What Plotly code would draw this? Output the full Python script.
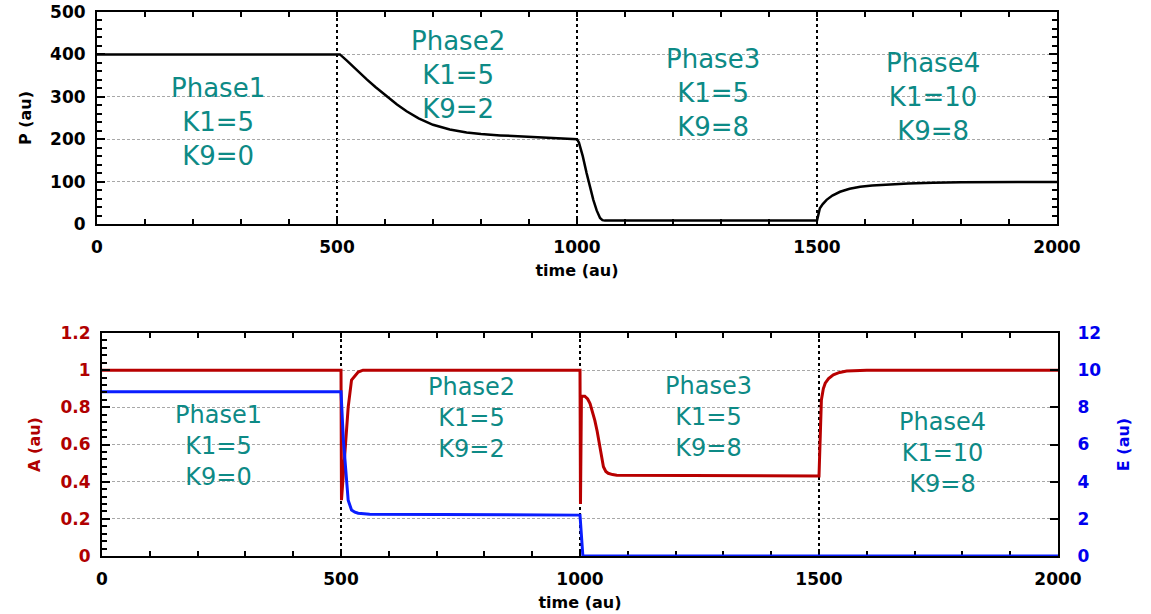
import plotly.graph_objects as go

# ---- P(t), top panel ----
t_p = [0, 500, 506, 520, 540, 562, 580, 603, 625, 645, 670, 700, 735,
       770, 800, 840, 880, 920, 960, 1000,
       1004, 1012, 1020, 1027, 1034, 1041, 1048, 1053, 1058,
       1500, 1503, 1506, 1512, 1520, 1532, 1548, 1568, 1590, 1615,
       1645, 1690, 1742, 1800, 2000]
p_vals = [400, 400, 400, 386, 364, 341, 323, 301, 282, 266, 249, 234, 223,
          216, 212, 209, 207, 205, 203, 200,
          192, 160, 120, 88, 57, 32, 14, 9, 8,
          8, 24, 37, 47, 57, 67, 76, 83, 88, 91,
          93, 95.5, 97.5, 98.5, 99]

# ---- A(t), bottom panel, left axis ----
t_a = [0, 500, 501, 505, 511, 515, 522, 530, 536, 546,
       1000, 1001, 1003, 1010, 1016, 1021, 1026, 1031, 1036, 1042, 1046,
       1049, 1054, 1059, 1068, 1077,
       1500, 1501, 1502, 1505, 1509, 1513, 1520, 1530, 1543, 1558, 1600,
       2000]
a_vals = [1.0, 1.0, 0.30, 0.445, 0.62, 0.80, 0.947, 0.975, 0.99, 1.0,
          1.0, 0.28, 0.86, 0.86, 0.845, 0.82, 0.78, 0.73, 0.67, 0.59, 0.52,
          0.48, 0.455, 0.445, 0.438, 0.435,
          0.43, 0.55, 0.66, 0.84, 0.90, 0.93, 0.955, 0.975, 0.988, 0.995,
          1.0, 1.0]

# ---- E(t), bottom panel, right axis ----
t_e = [0, 500, 505, 511, 515, 522, 529, 536, 560, 1000, 1006, 2000]
e_vals = [8.84, 8.84, 6.24, 4.45, 3.0, 2.48, 2.36, 2.3, 2.25, 2.2, 0.0, 0.0]

# ---- phase labels ----
phase_names = ["Phase1", "Phase2", "Phase3", "Phase4"]
k1_vals = [5, 5, 5, 10]
k9_vals = [0, 2, 8, 8]
top_label_x = [252, 752, 1283, 1742]
top_label_y = [240, 351, 309, 300]
bot_label_x = [243, 774, 1268, 1759]
bot_label_y = [0.59, 0.743, 0.748, 0.554]

x_ticks_major = [0, 500, 1000, 1500, 2000]

FONT = "DejaVu Sans"
TEAL = "#0d8a86"
RED = "#b80000"
BLUE = "#0a1eff"
LABEL_RED = "#b00000"
LABEL_BLUE = "#0000ee"

fig = go.Figure()
fig.add_trace(go.Scatter(x=t_p, y=p_vals, mode="lines",
                         line=dict(color="black", width=2.5),
                         xaxis="x", yaxis="y", showlegend=False))
fig.add_trace(go.Scatter(x=t_e, y=e_vals, mode="lines",
                         line=dict(color=BLUE, width=3),
                         xaxis="x2", yaxis="y3", showlegend=False))
fig.add_trace(go.Scatter(x=t_a, y=a_vals, mode="lines",
                         line=dict(color=RED, width=3),
                         xaxis="x2", yaxis="y2", showlegend=False))

tickfont = dict(family=FONT, size=17, color="black", weight="bold")
titlefont = dict(family=FONT, size=16, color="black", weight="bold")


def x_axis(domain, anchor):
    return dict(
        domain=domain, anchor=anchor, range=[0, 2000], automargin=False,
        tickvals=x_ticks_major, ticks="inside", ticklen=5, tickwidth=2,
        tickcolor="black",
        minor=dict(dtick=100, ticks="inside", ticklen=5, tickwidth=2,
                   tickcolor="black", showgrid=False),
        showline=True, linecolor="black", linewidth=2, mirror="allticks",
        showgrid=True, gridcolor="black", gridwidth=2, griddash="3px,3px",
        zeroline=False, tickfont=tickfont, ticklabelstandoff=7,
        title=dict(text="time (au)", font=titlefont, standoff=8),
    )


fig.update_layout(
    width=1151, height=614,
    margin=dict(l=0, r=0, t=0, b=0),
    paper_bgcolor="white", plot_bgcolor="white",
    xaxis=x_axis([97 / 1151, 1057 / 1151], "y"),
    yaxis=dict(
        domain=[1 - 224 / 614, 1 - 12 / 614], anchor="x", automargin=False,
        range=[0, 500], dtick=100, ticks="inside", ticklen=8, tickwidth=2,
        tickcolor="black",
        minor=dict(dtick=20, ticks="inside", ticklen=5, tickwidth=2,
                   tickcolor="black", showgrid=False),
        showline=True, linecolor="black", linewidth=2, mirror="allticks",
        showgrid=True, gridcolor="#a8a8a8", gridwidth=1, griddash="3px,2px",
        zeroline=False, tickfont=tickfont, ticklabelstandoff=6,
        title=dict(text="P (au)", font=titlefont, standoff=14),
    ),
    xaxis2=x_axis([102 / 1151, 1058 / 1151], "y2"),
    yaxis2=dict(
        domain=[1 - 556 / 614, 1 - 333 / 614], anchor="x2", automargin=False,
        range=[0, 1.2], tickvals=[0, 0.2, 0.4, 0.6, 0.8, 1.0, 1.2],
        ticktext=["0", "0.2", "0.4", "0.6", "0.8", "1", "1.2"],
        ticks="inside", ticklen=8, tickwidth=2, tickcolor="black",
        minor=dict(dtick=0.04, ticks="inside", ticklen=5, tickwidth=2,
                   tickcolor="black", showgrid=False),
        showline=True, linecolor="black", linewidth=2, mirror=False,
        showgrid=True, gridcolor="#a8a8a8", gridwidth=1, griddash="3px,2px",
        zeroline=False,
        tickfont=dict(family=FONT, size=17, color=LABEL_RED, weight="bold"),
        ticklabelstandoff=6,
        title=dict(text="A (au)",
                   font=dict(family=FONT, size=16, color=LABEL_RED,
                             weight="bold"),
                   standoff=16),
    ),
    yaxis3=dict(
        overlaying="y2", anchor="x2", side="right", automargin=False,
        range=[0, 12], dtick=2, ticks="inside", ticklen=8, tickwidth=2,
        tickcolor="black",
        showline=True, linecolor="black", linewidth=2,
        showgrid=False, zeroline=False,
        tickfont=dict(family=FONT, size=17, color=LABEL_BLUE, weight="bold"),
        ticklabelstandoff=14,
        title=dict(text="E (au)",
                   font=dict(family=FONT, size=16, color=LABEL_BLUE,
                             weight="bold"),
                   standoff=18),
    ),
)
fig.update_xaxes(layer="below traces", selector=dict(anchor="y2"))

top_font = dict(family=FONT, size=26, color=TEAL)
bot_font = dict(family=FONT, size=24, color=TEAL)
for i, name in enumerate(phase_names):
    text = f"{name}<br>K1={k1_vals[i]}<br>K9={k9_vals[i]}"
    fig.add_annotation(x=top_label_x[i], y=top_label_y[i], xref="x", yref="y",
                       text=text, showarrow=False, font=top_font,
                       align="center")
    fig.add_annotation(x=bot_label_x[i], y=bot_label_y[i], xref="x2",
                       yref="y2", text=text, showarrow=False, font=bot_font,
                       align="center")

fig.write_html("out.html")
